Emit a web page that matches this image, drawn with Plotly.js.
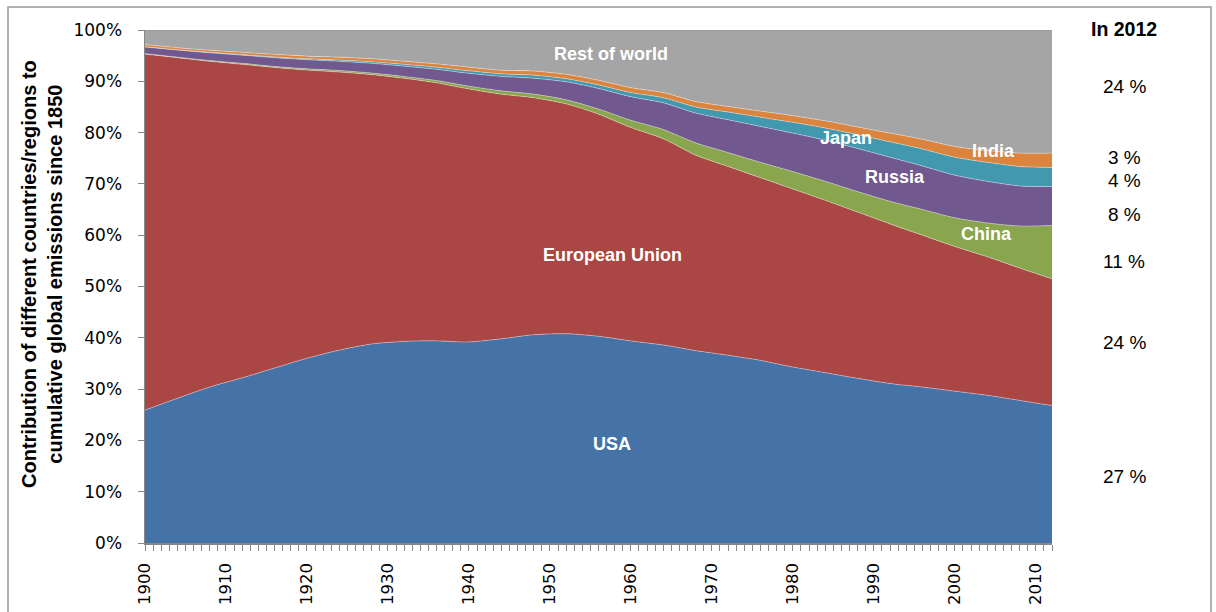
<!DOCTYPE html>
<html>
<head>
<meta charset="utf-8">
<script src="https://cdn.plot.ly/plotly-3.0.1.min.js"></script>
<style>html,body{margin:0;padding:0;background:#fff;}#chart{width:1216px;height:612px;}</style>
</head>
<body>
<div id="chart"></div>
<script>
// Years sampled every 4 years
const years = [1900,1904,1908,1912,1916,1920,1924,1928,1932,1936,1940,1944,1948,1952,1956,1960,1964,1968,1972,1976,1980,1984,1988,1992,1996,2000,2004,2008,2012];

// Shares of cumulative emissions since 1850 (%)
const usa    = [25.9,28.2,30.4,32.2,34.1,36.0,37.6,38.8,39.3,39.4,39.2,39.8,40.6,40.8,40.3,39.4,38.6,37.5,36.6,35.6,34.3,33.2,32.1,31.1,30.4,29.6,28.8,27.8,26.8];
const eu     = [69.4,66.4,63.5,61.1,58.6,56.2,54.2,52.5,51.3,50.3,49.3,47.7,46.2,44.8,43.3,41.6,40.2,38.1,36.8,35.6,34.7,33.6,32.4,31.1,29.6,28.2,27.0,25.8,24.7];
const china  = [0.1,0.1,0.15,0.2,0.2,0.25,0.3,0.3,0.35,0.45,0.55,0.65,0.7,0.8,1.0,1.4,1.8,2.4,2.7,3.0,3.4,3.7,4.0,4.4,5.0,5.6,6.6,8.2,10.4];
const russia = [1.3,1.4,1.5,1.6,1.7,1.75,1.8,1.9,2.0,2.2,2.5,2.8,3.1,3.5,4.0,4.6,5.2,5.8,6.4,7.0,7.5,8.0,8.4,8.6,8.5,8.3,8.1,7.8,7.6];
const japan  = [0.05,0.05,0.1,0.1,0.15,0.2,0.25,0.3,0.35,0.4,0.5,0.5,0.6,0.6,0.7,0.8,1.0,1.2,1.5,1.8,2.1,2.4,2.7,3.0,3.3,3.5,3.7,3.8,3.7];
const india  = [0.4,0.4,0.4,0.45,0.5,0.5,0.55,0.6,0.6,0.65,0.7,0.7,0.8,0.85,0.9,0.95,1.0,1.05,1.1,1.2,1.3,1.4,1.5,1.7,1.9,2.1,2.3,2.6,2.8];
const rest   = [2.85,3.45,3.95,4.35,4.75,5.1,5.3,5.6,6.1,6.6,7.25,7.85,8.0,8.65,9.8,11.25,12.2,13.95,14.9,15.8,16.7,17.7,18.9,20.1,21.3,22.7,23.5,24.0,24.0];

const seriesNames = ["USA","European Union","China","Russia","Japan","India","Rest of world"];
const seriesVals = [usa, eu, china, russia, japan, india, rest];
const colors = ["#4572A7","#AA4643","#89A54E","#71588F","#4198AF","#DB843D","#A5A5A5"];

// Labels inside the chart: [text, year, percent]
const inLabels = [["Rest of world",1957.5,95.3],["European Union",1957.7,56.1],["USA",1957.7,19.3],["Japan",1986.6,78.9],["Russia",1992.6,71.3],["China",2003.9,60.2],["India",2004.8,76.4]];
// Right-hand 2012 labels
const rightTitle = "In 2012";
const rightLabels = ["24 %","3 %","4 %","8 %","11 %","24 %","27 %"];
const rightLabelY = [0.8908,0.7505,0.7057,0.6394,0.5497,0.3899,0.1287];

const tickVals = [0,10,20,30,40,50,60,70,80,90,100];
const tickText = ["0%","10%","20%","30%","40%","50%","60%","70%","80%","90%","100%"];

const traces = seriesNames.map((n,i)=>({
  type:'scatter', mode:'lines', name:n, x:years, y:seriesVals[i],
  stackgroup:'one', fillcolor:colors[i],
  line:{shape:'spline', smoothing:0.8, width: i===6 ? 1.2 : 0.8, color: i===6 ? '#8f8f8f' : 'rgba(255,255,255,0.45)'},
  hoverinfo:'skip'
}));

const RX = (1124-145)/907;
const annotations = [];
inLabels.forEach(l=>annotations.push({x:l[1], y:l[2], xref:'x', yref:'y', text:l[0], showarrow:false,
  xanchor:'center', yanchor:'middle',
  font:{family:'Liberation Sans, Arial, sans-serif', size:18, color:'#ffffff', weight:'bold'}}));
annotations.push({x:RX, y:(543-29)/513, xref:'paper', yref:'paper', text:'<b>'+rightTitle+'</b>', showarrow:false,
  xanchor:'center', yanchor:'middle',
  font:{family:'Liberation Sans, Arial, sans-serif', size:19.5, color:'#000'}});
rightLabels.forEach((t,i)=>annotations.push({x:RX, y:rightLabelY[i], xref:'paper', yref:'paper', text:t, showarrow:false,
  xanchor:'center', yanchor:'middle',
  font:{family:'Liberation Sans, Arial, sans-serif', size:19, color:'#000'}}));
annotations.push({x:(42-145)/907, y:(543-274)/513, xref:'paper', yref:'paper', textangle:-90, showarrow:false,
  text:'<b>Contribution of different countries/regions to<br>cumulative global emissions since 1850</b>',
  font:{family:'Liberation Sans, Arial, sans-serif', size:20, color:'#000'}, xanchor:'center', yanchor:'middle'});

const layout = {
  width:1216, height:612,
  margin:{l:145, r:164, t:30, b:69, pad:0},
  paper_bgcolor:'#fff', plot_bgcolor:'#fff',
  showlegend:false, hovermode:false,
  xaxis:{range:[1900,2012], tick0:1900, dtick:10, tickangle:-90, ticks:'outside', ticklen:6, tickcolor:'#888', tickwidth:1,
    showline:true, linecolor:'#888', linewidth:1.5, showgrid:false, zeroline:false, ticklabelstandoff:6,
    tickfont:{family:'DejaVu Sans, sans-serif', size:16.5, color:'#000'},
    minor:{dtick:1, tick0:1900, ticks:'outside', ticklen:6, tickcolor:'#888', tickwidth:1, showgrid:false}},
  yaxis:{range:[0,100], tickvals:tickVals, ticktext:tickText, ticks:'outside', ticklen:6, tickcolor:'#888', tickwidth:1,
    showline:true, linecolor:'#888', linewidth:1.5, showgrid:false, zeroline:false, ticklabelstandoff:12,
    tickfont:{family:'DejaVu Sans, sans-serif', size:17, color:'#000'}},
  annotations: annotations,
  shapes:[{type:'rect', xref:'paper', yref:'paper', x0:(8-145)/907, x1:(1211-145)/907, y0:(543-640)/513, y1:(543-7)/513,
    line:{color:'#999', width:1.5}, fillcolor:'rgba(0,0,0,0)', layer:'below'}]
};

Plotly.newPlot('chart', traces, layout, {staticPlot:true, displayModeBar:false});
</script>
</body>
</html>
